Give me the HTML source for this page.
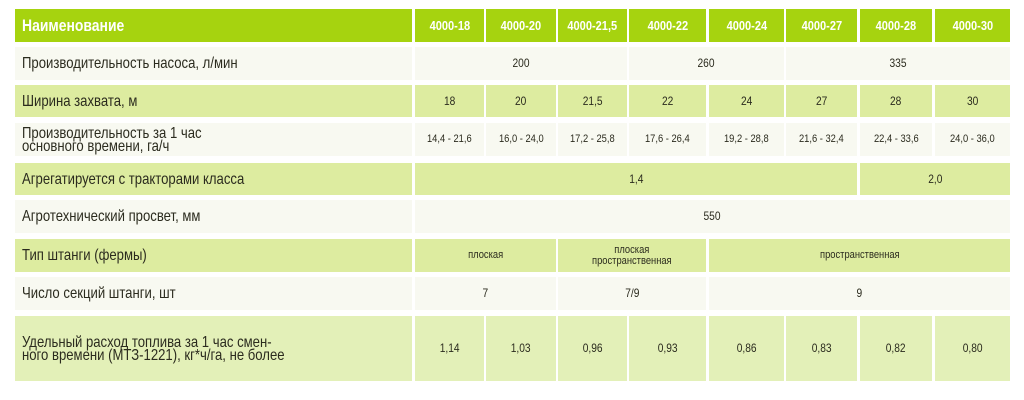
<!DOCTYPE html>
<html><head><meta charset="utf-8"><style>
body{margin:0;width:1024px;height:400px;background:#fff;overflow:hidden;position:relative;font-family:"Liberation Sans",sans-serif;color:#2b2b1e}
.c{position:absolute;display:flex;align-items:center;justify-content:center;text-align:center;font-size:12px;line-height:11px}
.c span{display:inline-block;transform:scaleX(.85);transform-origin:center;white-space:nowrap}
.l{position:absolute;left:15px;width:390px;padding-left:7px;display:flex;align-items:center;font-size:16px;line-height:13px}
.l span{display:inline-block;transform:scaleX(.82);transform-origin:left center;white-space:nowrap}
.h{background:#a6d30f;color:#fff;font-weight:bold;font-size:13px}
.w{background:#f8f9f1}
.g{background:#ddeca0}
.g2{background:#e3f0b8}
.s{font-size:11px}
</style></head><body>
<div class="l h" style="top:9px;height:33px;font-size:17px"><span>Наименование</span></div>
<div class="c h" style="top:9px;height:33px;left:415px;width:69px"><span>4000-18</span></div>
<div class="c h" style="top:9px;height:33px;left:486px;width:70px"><span>4000-20</span></div>
<div class="c h" style="top:9px;height:33px;left:558px;width:69px"><span>4000-21,5</span></div>
<div class="c h" style="top:9px;height:33px;left:629px;width:77px"><span>4000-22</span></div>
<div class="c h" style="top:9px;height:33px;left:709px;width:75px"><span>4000-24</span></div>
<div class="c h" style="top:9px;height:33px;left:786px;width:71px"><span>4000-27</span></div>
<div class="c h" style="top:9px;height:33px;left:860px;width:72px"><span>4000-28</span></div>
<div class="c h" style="top:9px;height:33px;left:935px;width:75px"><span>4000-30</span></div>

<div class="l w" style="top:47px;height:33px"><span>Производительность насоса, л/мин</span></div>
<div class="c w" style="top:47px;height:33px;left:415px;width:212px"><span>200</span></div>
<div class="c w" style="top:47px;height:33px;left:629px;width:155px"><span>260</span></div>
<div class="c w" style="top:47px;height:33px;left:786px;width:224px"><span>335</span></div>

<div class="l g" style="top:85px;height:32px"><span>Ширина захвата, м</span></div>
<div class="c g" style="top:85px;height:32px;left:415px;width:69px"><span>18</span></div>
<div class="c g" style="top:85px;height:32px;left:486px;width:70px"><span>20</span></div>
<div class="c g" style="top:85px;height:32px;left:558px;width:69px"><span>21,5</span></div>
<div class="c g" style="top:85px;height:32px;left:629px;width:77px"><span>22</span></div>
<div class="c g" style="top:85px;height:32px;left:709px;width:75px"><span>24</span></div>
<div class="c g" style="top:85px;height:32px;left:786px;width:71px"><span>27</span></div>
<div class="c g" style="top:85px;height:32px;left:860px;width:72px"><span>28</span></div>
<div class="c g" style="top:85px;height:32px;left:935px;width:75px"><span>30</span></div>

<div class="l w" style="top:123px;height:33px"><span>Производительность за 1 час<br>основного времени, га/ч</span></div>
<div class="c w s" style="top:123px;height:33px;left:415px;width:69px"><span>14,4 - 21,6</span></div>
<div class="c w s" style="top:123px;height:33px;left:486px;width:70px"><span>16,0 - 24,0</span></div>
<div class="c w s" style="top:123px;height:33px;left:558px;width:69px"><span>17,2 - 25,8</span></div>
<div class="c w s" style="top:123px;height:33px;left:629px;width:77px"><span>17,6 - 26,4</span></div>
<div class="c w s" style="top:123px;height:33px;left:709px;width:75px"><span>19,2 - 28,8</span></div>
<div class="c w s" style="top:123px;height:33px;left:786px;width:71px"><span>21,6 - 32,4</span></div>
<div class="c w s" style="top:123px;height:33px;left:860px;width:72px"><span>22,4 - 33,6</span></div>
<div class="c w s" style="top:123px;height:33px;left:935px;width:75px"><span>24,0 - 36,0</span></div>

<div class="l g" style="top:163px;height:32px"><span>Агрегатируется с тракторами класса</span></div>
<div class="c g" style="top:163px;height:32px;left:415px;width:442px"><span>1,4</span></div>
<div class="c g" style="top:163px;height:32px;left:860px;width:150px"><span>2,0</span></div>

<div class="l w" style="top:200px;height:33px"><span>Агротехнический просвет, мм</span></div>
<div class="c w" style="top:200px;height:33px;left:415px;width:595px"><span>550</span></div>

<div class="l g" style="top:239px;height:33px"><span>Тип штанги (фермы)</span></div>
<div class="c g s" style="top:239px;height:33px;left:415px;width:141px"><span>плоская</span></div>
<div class="c g s" style="top:239px;height:33px;left:558px;width:148px"><span>плоская<br>пространственная</span></div>
<div class="c g s" style="top:239px;height:33px;left:709px;width:301px"><span>пространственная</span></div>

<div class="l w" style="top:277px;height:33px"><span>Число секций штанги, шт</span></div>
<div class="c w" style="top:277px;height:33px;left:415px;width:141px"><span>7</span></div>
<div class="c w" style="top:277px;height:33px;left:558px;width:148px"><span>7/9</span></div>
<div class="c w" style="top:277px;height:33px;left:709px;width:301px"><span>9</span></div>

<div class="l g2" style="top:316px;height:65px"><span>Удельный расход топлива за 1 час смен-<br>ного времени (МТЗ-1221), кг*ч/га, не более</span></div>
<div class="c g2" style="top:316px;height:65px;left:415px;width:69px"><span>1,14</span></div>
<div class="c g2" style="top:316px;height:65px;left:486px;width:70px"><span>1,03</span></div>
<div class="c g2" style="top:316px;height:65px;left:558px;width:69px"><span>0,96</span></div>
<div class="c g2" style="top:316px;height:65px;left:629px;width:77px"><span>0,93</span></div>
<div class="c g2" style="top:316px;height:65px;left:709px;width:75px"><span>0,86</span></div>
<div class="c g2" style="top:316px;height:65px;left:786px;width:71px"><span>0,83</span></div>
<div class="c g2" style="top:316px;height:65px;left:860px;width:72px"><span>0,82</span></div>
<div class="c g2" style="top:316px;height:65px;left:935px;width:75px"><span>0,80</span></div>
</body></html>
